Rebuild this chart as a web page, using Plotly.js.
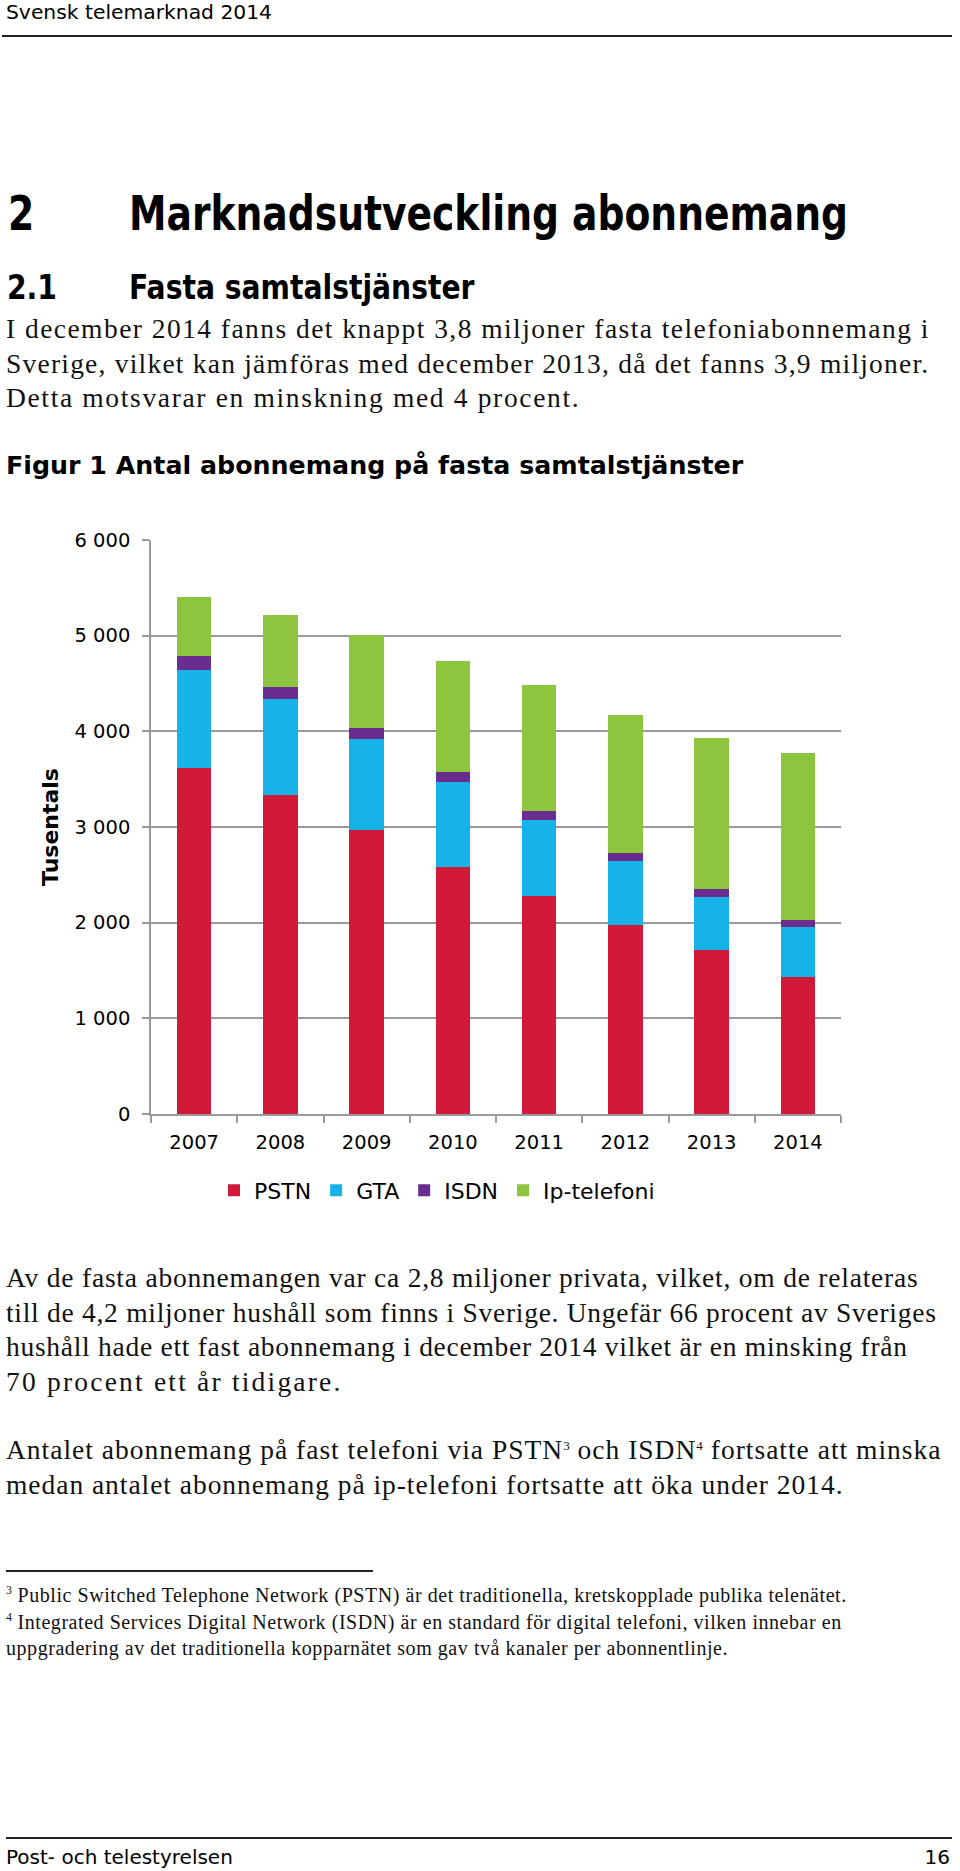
<!DOCTYPE html>
<html lang="sv">
<head>
<meta charset="utf-8">
<script src="https://cdn.plot.ly/plotly-3.0.1.min.js"></script>
<style>
  html, body { margin:0; padding:0; background:#fff; }
  #page { position:relative; width:960px; height:1871px; overflow:hidden; background:#fff; color:#000; }
  .abs { position:absolute; white-space:nowrap; }
  .sans { font-family:"DejaVu Sans", Verdana, sans-serif; line-height:1; }
  .bold { font-weight:bold; }
  .serif { font-family:"Liberation Serif", "Times New Roman", serif; color:#111; }
  .body { font-size:27.5px; line-height:34.5px; letter-spacing:1px; }
  .body div { height:34.5px; }
  .fn { font-size:20px; line-height:26.5px; letter-spacing:0.55px; }
  .rule { position:absolute; background:#222; }
  sup { font-size:13px; line-height:0; vertical-align:9px; letter-spacing:0; }
  .fn sup { font-size:12px; vertical-align:8px; }
  #chart { position:absolute; left:0; top:480px; width:960px; height:760px; }
</style>
</head>
<body>
<div id="page">
  <div class="abs sans" style="left:6px; top:2px; font-size:20.3px;">Svensk telemarknad 2014</div>
  <div class="rule" style="left:2px; top:35px; width:950px; height:2px;"></div>

  <div class="abs sans bold" style="left:8px; top:190px; font-size:44px; transform:scale(0.856,1.09); transform-origin:left top;">2</div>
  <div class="abs sans bold" style="left:129px; top:190px; font-size:44px; transform:scale(0.856,1.09); transform-origin:left top;">Marknadsutveckling abonnemang</div>

  <div class="abs sans bold" style="left:7px; top:271px; font-size:30px; transform:scale(0.94,1.1); transform-origin:left top;">2.1</div>
  <div class="abs sans bold" style="left:129px; top:271px; font-size:30px; transform:scale(0.94,1.1); transform-origin:left top;">Fasta samtalstjänster</div>

  <div class="abs serif body" style="left:6px; top:312px;">
    <div style="letter-spacing:1.45px;">I december 2014 fanns det knappt 3,8 miljoner fasta telefoniabonnemang i</div>
    <div style="letter-spacing:1.22px;">Sverige, vilket kan jämföras med december 2013, då det fanns 3,9 miljoner.</div>
    <div style="letter-spacing:1.65px;">Detta motsvarar en minskning med 4 procent.</div>
  </div>

  <div class="abs sans bold" style="left:6px; top:453px; font-size:25.3px;">Figur 1 Antal abonnemang på fasta samtalstjänster</div>

  <div id="chart"></div>

  <div class="abs serif body" style="left:6px; top:1261px;">
    <div style="letter-spacing:0.78px;">Av de fasta abonnemangen var ca 2,8 miljoner privata, vilket, om de relateras</div>
    <div style="letter-spacing:0.72px;">till de 4,2 miljoner hushåll som finns i Sverige. Ungefär 66 procent av Sveriges</div>
    <div style="letter-spacing:0.72px;">hushåll hade ett fast abonnemang i december 2014 vilket är en minsking från</div>
    <div style="letter-spacing:2.2px;">70 procent ett år tidigare.</div>
  </div>

  <div class="abs serif body" style="left:6px; top:1433px;">
    <div style="letter-spacing:1px;">Antalet abonnemang på fast telefoni via PSTN<sup>3</sup> och ISDN<sup>4</sup> fortsatte att minska</div>
    <div style="letter-spacing:0.96px;">medan antalet abonnemang på ip-telefoni fortsatte att öka under 2014.</div>
  </div>

  <div class="rule" style="left:6px; top:1570px; width:367px; height:2px;"></div>
  <div class="abs serif fn" style="left:6px; top:1582px;"><sup>3</sup> Public Switched Telephone Network (PSTN) är det traditionella, kretskopplade publika telenätet.<br><sup>4</sup> Integrated Services Digital Network (ISDN) är en standard för digital telefoni, vilken innebar en<br>uppgradering av det traditionella kopparnätet som gav två kanaler per abonnentlinje.</div>

  <div class="rule" style="left:6px; top:1837px; width:946px; height:2px;"></div>
  <div class="abs sans" style="left:6px; top:1847px; font-size:20px;">Post- och telestyrelsen</div>
  <div class="abs sans" style="right:10px; top:1847px; font-size:20px;">16</div>
</div>

<script>
// ---- Data (thousands of subscriptions) ----
const years = ['2007', '2008', '2009', '2010', '2011', '2012', '2013', '2014'];
const pstn  = [3617, 3331, 2965, 2582, 2276, 1980, 1714, 1436];
const gta   = [1028, 1007,  955,  888,  794,  665,  554,  519];
const isdn  = [ 142,  129,  112,  102,   94,   87,   84,   77];
const ipTelefoni = [621, 749, 972, 1160, 1324, 1439, 1575, 1745];

const seriesNames = ['PSTN', 'GTA', 'ISDN', 'Ip-telefoni'];
const seriesColors = ['#D11A3A', '#17B3E8', '#6A2C8E', '#8DC53F'];

const yTickVals = [0, 1000, 2000, 3000, 4000, 5000, 6000];
const yTickText = ['0', '1 000', '2 000', '3 000', '4 000', '5 000', '6 000'];
const yTitle = 'Tusentals';

const seriesValues = [pstn, gta, isdn, ipTelefoni];
const traces = seriesValues.map((vals, i) => ({
  type: 'bar',
  name: seriesNames[i],
  x: years,
  y: vals,
  marker: { color: seriesColors[i], line: { width: 0 } },
  hoverinfo: 'x+y+name'
}));

const gray = '#9a9a9a';
const layout = {
  width: 960,
  height: 760,
  margin: { l: 151, r: 119, t: 60, b: 126, pad: 0 },
  paper_bgcolor: '#ffffff',
  plot_bgcolor: '#ffffff',
  barmode: 'stack',
  bargap: 0.6,
  font: { family: 'DejaVu Sans, Verdana, sans-serif', size: 19.5, color: '#000' },
  showlegend: true,
  xaxis: {
    type: 'category',
    showline: true, linecolor: gray, linewidth: 1.5,
    ticks: 'outside', tickson: 'boundaries', ticklen: 7, tickcolor: gray, tickwidth: 1.5,
    showgrid: false, zeroline: false,
    tickfont: { size: 19.5 },
    ticklabelstandoff: 10
  },
  yaxis: {
    range: [0, 6000],
    tickmode: 'array', tickvals: yTickVals, ticktext: yTickText,
    showline: true, linecolor: gray, linewidth: 1.5,
    ticks: 'outside', ticklen: 7, tickcolor: gray, tickwidth: 1.5,
    showgrid: true, gridcolor: gray, gridwidth: 1.5,
    zeroline: false,
    tickfont: { size: 19.5 },
    ticklabelstandoff: 8,
    title: { text: yTitle, font: { size: 22, weight: 'bold' }, standoff: 10 }
  },
  legend: {
    orientation: 'h',
    x: 0.0913, xanchor: 'left',
    y: -0.133, yanchor: 'middle',
    font: { size: 22 },
    traceorder: 'normal',
    itemwidth: 30,
    bgcolor: 'rgba(0,0,0,0)'
  }
};

Plotly.newPlot('chart', traces, layout, { displayModeBar: false, responsive: false });
</script>
</body>
</html>
